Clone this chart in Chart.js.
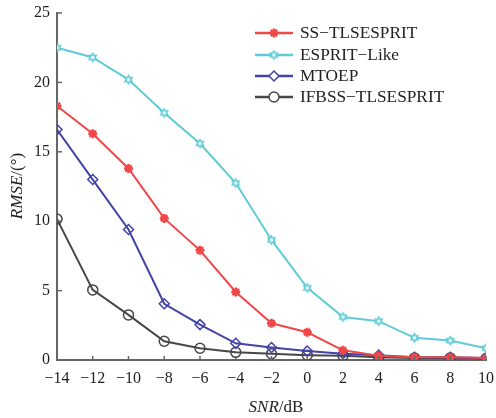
<!DOCTYPE html>
<html>
<head>
<meta charset="utf-8">
<script src="https://cdn.jsdelivr.net/npm/chart.js@4/dist/chart.umd.min.js"></script>
<style>
  html, body { margin: 0; padding: 0; background: #fff; }
  #wrap { width: 496px; height: 418px; }
</style>
</head>
<body>
<div id="wrap"><canvas id="rmseChart" width="496" height="418"></canvas></div>
<script>
// SNR values (dB) on the x axis
const snr = [-14, -12, -10, -8, -6, -4, -2, 0, 2, 4, 6, 8, 10];

// RMSE (degrees) for each method
const ssTlsEsprit = [18.3, 16.3, 13.8, 10.2, 7.9, 4.9, 2.65, 2.0, 0.7, 0.3, 0.2, 0.2, 0.15];
const espritLike = [22.5, 21.8, 20.2, 17.8, 15.6, 12.75, 8.65, 5.2, 3.1, 2.8, 1.6, 1.4, 0.85];
const mtoep = [16.6, 13.0, 9.4, 4.05, 2.55, 1.2, 0.9, 0.65, 0.45, 0.35, 0.2, 0.2, 0.15];
const ifbssTlsEsprit = [10.15, 5.05, 3.25, 1.35, 0.85, 0.55, 0.45, 0.35, 0.3, 0.2, 0.15, 0.15, 0.1];

const seriesNames = ['SS\u2212TLSESPRIT', 'ESPRIT\u2212Like', 'MTOEP', 'IFBSS\u2212TLSESPRIT'];
const xTicks = [-14, -12, -10, -8, -6, -4, -2, 0, 2, 4, 6, 8, 10];
const yTicks = [0, 5, 10, 15, 20, 25];

const FONT = '"Liberation Serif", "DejaVu Serif", serif';

// hexagram marker for the ESPRIT-Like curve
function makeHexagram(color, r) {
  const c = document.createElement('canvas');
  const s = Math.ceil(r * 2 + 4);
  c.width = s; c.height = s;
  const g = c.getContext('2d');
  const cx = s / 2, cy = s / 2;
  g.fillStyle = color;
  for (let k = 0; k < 2; k++) {
    g.beginPath();
    for (let i = 0; i < 3; i++) {
      const a = -Math.PI / 2 + k * Math.PI + i * 2 * Math.PI / 3;
      const px = cx + r * Math.cos(a), py = cy + r * Math.sin(a);
      if (i === 0) g.moveTo(px, py); else g.lineTo(px, py);
    }
    g.closePath();
    g.fill();
  }
  g.fillStyle = '#dff6f8';
  g.beginPath();
  g.arc(cx, cy, r * 0.35, 0, Math.PI * 2);
  g.fill();
  return c;
}

const colors = ['#f04848', '#5fcbd6', '#4343a8', '#474747'];
const hexMark = makeHexagram(colors[1], 5.5);

function pts(arr) {
  return snr.map((x, i) => ({ x: x, y: arr[i] }));
}

const datasets = [
  {
    label: seriesNames[0], data: pts(ssTlsEsprit),
    borderColor: colors[0], backgroundColor: colors[0],
    pointStyle: 'star', pointRadius: 4.5, pointBorderWidth: 2.5, borderWidth: 2
  },
  {
    label: seriesNames[1], data: pts(espritLike),
    borderColor: colors[1], backgroundColor: colors[1],
    pointStyle: hexMark, borderWidth: 2
  },
  {
    label: seriesNames[2], data: pts(mtoep),
    borderColor: colors[2], backgroundColor: 'rgba(255,255,255,0)',
    pointStyle: 'rectRot', pointRadius: 5, pointBorderWidth: 1.5, borderWidth: 2
  },
  {
    label: seriesNames[3], data: pts(ifbssTlsEsprit),
    borderColor: colors[3], backgroundColor: 'rgba(255,255,255,0)',
    pointStyle: 'circle', pointRadius: 5, pointBorderWidth: 1.5, borderWidth: 2
  }
];

// draw a legend marker in the dataset's colours
function legendMark(g, ds, x, y) {
  g.save();
  g.strokeStyle = ds.borderColor;
  g.fillStyle = ds.backgroundColor === 'rgba(255,255,255,0)' ? '#fff' : ds.backgroundColor;
  g.lineWidth = ds.pointBorderWidth || 1;
  Chart.helpers.drawPoint(g, {
    pointStyle: ds.pointStyle,
    radius: ds.pointRadius !== undefined ? ds.pointRadius : 3,
    borderWidth: ds.pointBorderWidth || 1,
    rotation: 0
  }, x, y);
  g.restore();
}

// inner tick marks, axis titles and the legend box
const decorations = {
  id: 'decorations',
  afterDraw(chart) {
    const g = chart.ctx;
    const xs = chart.scales.x, ys = chart.scales.y;
    const area = chart.chartArea;
    g.save();
    g.strokeStyle = '#666';
    g.lineWidth = 1.5;
    xTicks.forEach(v => {
      const px = xs.getPixelForValue(v);
      g.beginPath(); g.moveTo(px, area.bottom); g.lineTo(px, area.bottom - 4); g.stroke();
    });
    yTicks.forEach(v => {
      const py = ys.getPixelForValue(v);
      g.beginPath(); g.moveTo(area.left, py); g.lineTo(area.left + 5, py); g.stroke();
    });

    // axis titles: italic symbol + upright unit
    g.fillStyle = '#222';
    g.textBaseline = 'middle';
    g.textAlign = 'left';
    const it = 'italic 17px ' + FONT, up = '17px ' + FONT;
    g.font = it; const wa = g.measureText('SNR').width;
    g.font = up; const wb = g.measureText('/dB').width;
    let x0 = 276 - (wa + wb) / 2;
    g.font = it; g.fillText('SNR', x0, 408);
    g.font = up; g.fillText('/dB', x0 + wa, 408);

    g.save();
    g.translate(18, 186);
    g.rotate(-Math.PI / 2);
    g.font = it; const wc = g.measureText('RMSE').width;
    g.font = up; const wd = g.measureText('/(\u00b0)').width;
    x0 = -(wc + wd) / 2;
    g.font = it; g.fillText('RMSE', x0, 0);
    g.font = up; g.fillText('/(\u00b0)', x0 + wc, 0);
    g.restore();

    // legend (text slightly widened, the original face is broader than Times)
    const rows = [33, 55, 76, 97];
    chart.data.datasets.forEach((ds, i) => {
      const y = rows[i];
      g.strokeStyle = ds.borderColor;
      g.lineWidth = 2.5;
      g.beginPath(); g.moveTo(255, y); g.lineTo(293, y); g.stroke();
      legendMark(g, ds, 274, y);
      g.save();
      g.fillStyle = '#222';
      g.font = '16px ' + FONT;
      g.textBaseline = 'middle';
      g.translate(300, y + 1);
      g.scale(1.08, 1);
      g.fillText(ds.label, 0, 0);
      g.restore();
    });
    g.restore();
  }
};

new Chart(document.getElementById('rmseChart').getContext('2d'), {
  type: 'line',
  data: { datasets: datasets },
  plugins: [decorations],
  options: {
    responsive: false,
    animation: false,
    devicePixelRatio: 1,
    layout: { padding: { top: 13, right: 10, left: 0, bottom: 0 } },
    plugins: { legend: { display: false }, tooltip: { enabled: false } },
    scales: {
      x: {
        type: 'linear', min: -14, max: 10,
        afterBuildTicks: s => { s.ticks = xTicks.map(v => ({ value: v })); },
        afterFit: s => { s.height = 58; s.paddingLeft = 0; s.paddingRight = 0; },
        grid: { display: true, drawOnChartArea: false, drawTicks: false },
        border: { display: true, color: '#666', width: 2 },
        ticks: {
          padding: 9, color: '#222', maxRotation: 0,
          font: { family: FONT, size: 16 },
          callback: v => (v < 0 ? '\u2212' + Math.abs(v) : String(v))
        }
      },
      y: {
        min: 0, max: 25,
        afterBuildTicks: s => { s.ticks = yTicks.map(v => ({ value: v })); },
        afterFit: s => { s.width = 57; s.paddingTop = 0; s.paddingBottom = 0; },
        grid: { display: true, drawOnChartArea: false, drawTicks: false },
        border: { display: true, color: '#666', width: 2 },
        ticks: {
          padding: 7, color: '#222',
          font: { family: FONT, size: 16 }
        }
      }
    }
  }
});
</script>
</body>
</html>
